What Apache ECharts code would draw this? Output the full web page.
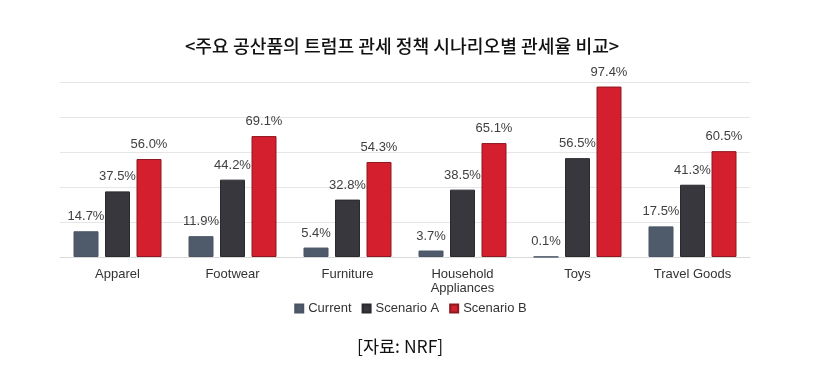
<!DOCTYPE html>
<html><head><meta charset="utf-8">
<script src="https://cdn.jsdelivr.net/npm/echarts@6/dist/echarts.min.js"></script>
<style>html,body{margin:0;padding:0;background:#fff}#c{width:821px;height:375px}</style>
</head><body><div id="c"></div>
<script>
const categories = ['Apparel','Footwear','Furniture','Household\nAppliances','Toys','Travel Goods'];
const seriesNames = ['Current','Scenario A','Scenario B'];
const current = [14.7, 11.9, 5.4, 3.7, 0.1, 17.5];
const scenarioA = [37.5, 44.2, 32.8, 38.5, 56.5, 41.3];
const scenarioB = [56.0, 69.1, 54.3, 65.1, 97.4, 60.5];
const colors = ['#4f5b6b', '#38373d', '#d31f2e'];
const borders = ['#4a5564', '#2a292e', '#8e1820'];
const titleText = '<주요 공산품의 트럼프 관세 정책 시나리오별 관세율 비교>';
const sourceText = '[자료: NRF]';

const chart = echarts.init(document.getElementById('c'), null, {renderer:'canvas'});
const font = '"Liberation Sans", Arial, sans-serif';
const data = [current, scenarioA, scenarioB];
chart.setOption({
  animation: false,
  backgroundColor: '#fff',
  title: [
    {text: titleText, left: 180, top: 32, textStyle:{fontFamily:'"Noto Sans CJK KR", sans-serif', fontSize:18.2, fontWeight:500, color:'#111'}},
    {text: sourceText, left: 352, top: 333, textStyle:{fontFamily:'"Noto Sans CJK KR", sans-serif', fontSize:17.5, fontWeight:'normal', color:'#111'}}
  ],
  legend: {
    data: seriesNames, bottom: 55, left: 'center', itemWidth: 8, itemHeight: 8, itemGap: 10, icon:'rect',
    textStyle:{fontFamily:font, fontSize:13, color:'#333'}
  },
  grid: {left: 60, right: 71, top: 82, bottom: 118},
  xAxis: {
    type:'category', data: categories,
    axisLine:{lineStyle:{color:'#d9d9d9'}}, axisTick:{show:false},
    axisLabel:{fontFamily:font, fontSize:13, color:'#333', margin:10, lineHeight:14}
  },
  yAxis: {
    type:'value', min:0, max:100, interval:20,
    axisLabel:{show:false}, axisLine:{show:false}, axisTick:{show:false},
    splitLine:{lineStyle:{color:'#e6e6e6'}}
  },
  series: seriesNames.map((n,i)=>({
    name:n, type:'bar', data:data[i], barWidth:25, barGap:'26%',
    itemStyle:{color:colors[i], borderColor:borders[i], borderWidth:1},
    label:{show:true, position:'top', distance:8, formatter:p=>p.value.toFixed(1)+'%',
      fontFamily:font, fontSize:13, color:'#404040'}
  }))
});
</script></body></html>
